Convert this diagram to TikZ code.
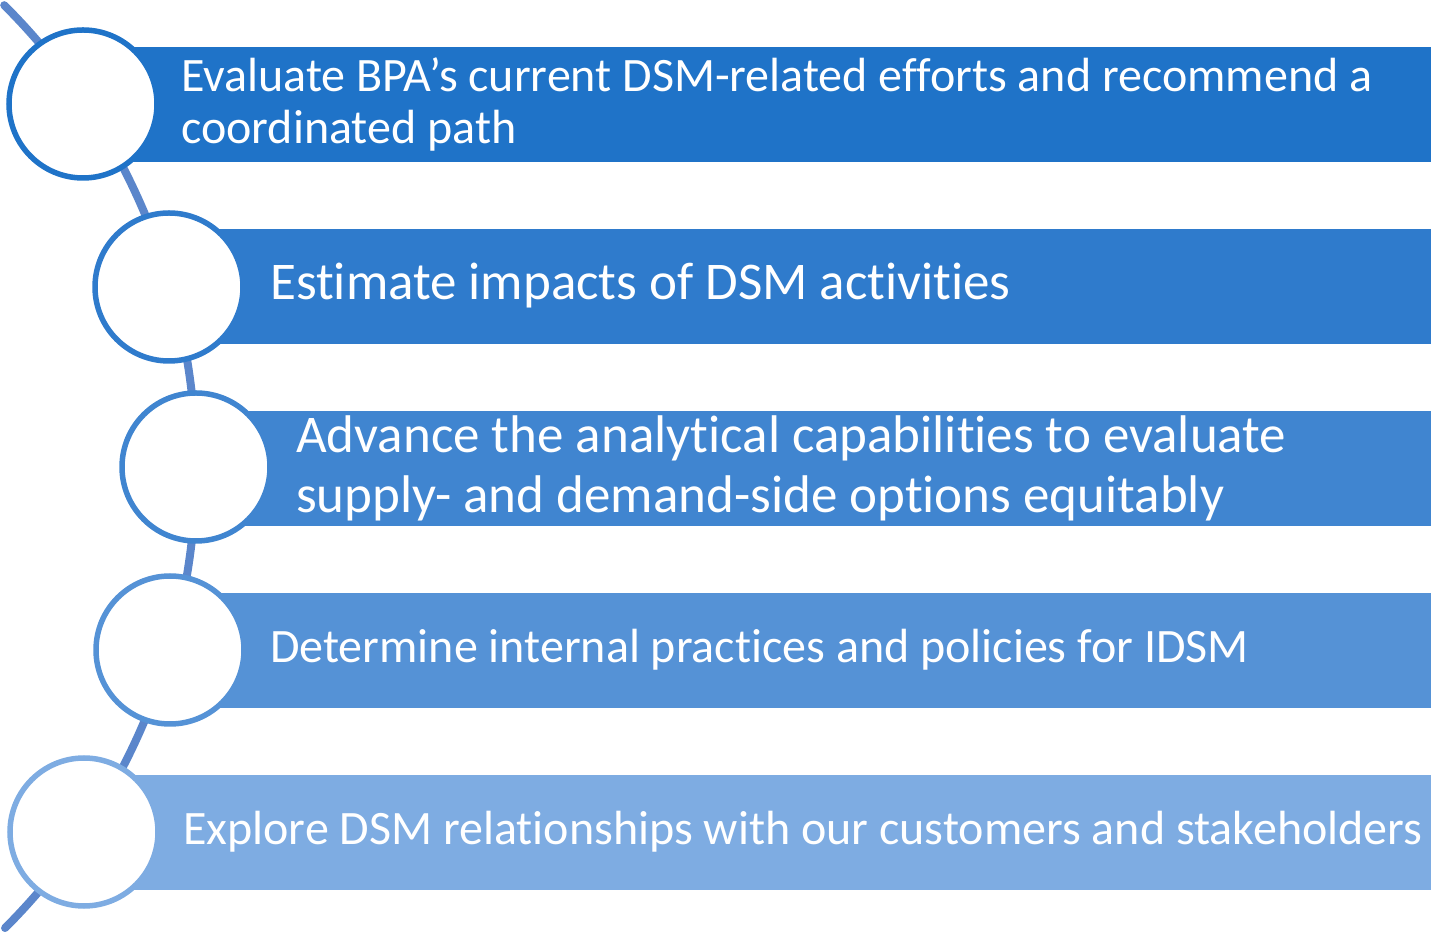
\documentclass[tikz,border=0pt]{standalone}
\usepackage{fontspec}
\setmainfont[Ligatures={NoCommon}]{Carlito}
\usetikzlibrary{calc}
\begin{document}
\begin{tikzpicture}[x=1pt,y=1pt,
  band/.style={fill=#1, draw=none},
  ring/.style={circle, minimum size=148pt, inner sep=0pt, fill=white, draw=#1, line width=5.5pt},
  btext/.style 2 args={anchor=west, text=white, align=left, inner sep=0pt, font=\fontsize{#1}{#2}\selectfont},
  spine/.style={draw=spineblue, line width=8pt, line cap=round}]
\definecolor{b1}{HTML}{1F73C8}
\definecolor{b2}{HTML}{2F7BCC}
\definecolor{b3}{HTML}{4085D0}
\definecolor{b4}{HTML}{5592D6}
\definecolor{b5}{HTML}{7EACE2}
\definecolor{spineblue}{HTML}{5B86CB}
\useasboundingbox (0,0) rectangle (1431,931);
% spine arc
\coordinate (sc) at (-456,464);
\coordinate (stop) at ($(sc)+(45.1:652)$);
\draw[spine] (stop) arc[start angle=45.1, end angle=-45, radius=652];
% bands
\fill[band=b1] (85,931-47) rectangle (1431,931-162);
\fill[band=b2] (169,931-229) rectangle (1431,931-344);
\fill[band=b3] (196,931-411) rectangle (1431,931-526);
\fill[band=b4] (170,931-593) rectangle (1431,931-708);
\fill[band=b5] (84,931-775) rectangle (1431,931-890);
% circles
\node[ring=b1] (c1) at (83,931-104) {};
\node[ring=b2] (c2) at (169,931-287) {};
\node[ring=b3] (c3) at (196,931-467) {};
\node[ring=b4] (c4) at (170,931-650) {};
\node[ring=b5] (c5) at (84,931-832) {};
% texts
\node[btext={48}{52}] (t1) at (181,931-104) {Evaluate BPA’s current DSM-related efforts and recommend a\\coordinated path};
\node[btext={53}{55}] (t2) at (270,931-286) {Estimate impacts of DSM activities};
\node[btext={53}{60}] (t3) at (296,931-468) {Advance the analytical capabilities to evaluate\\supply- and demand-side options equitably};
\node[btext={48}{50}] (t4) at (270,931-650) {Determine internal practices and policies for IDSM};
\node[btext={48}{50}] (t5) at (183,931-832) {Explore DSM relationships with our customers and stakeholders};
\end{tikzpicture}
\end{document}
